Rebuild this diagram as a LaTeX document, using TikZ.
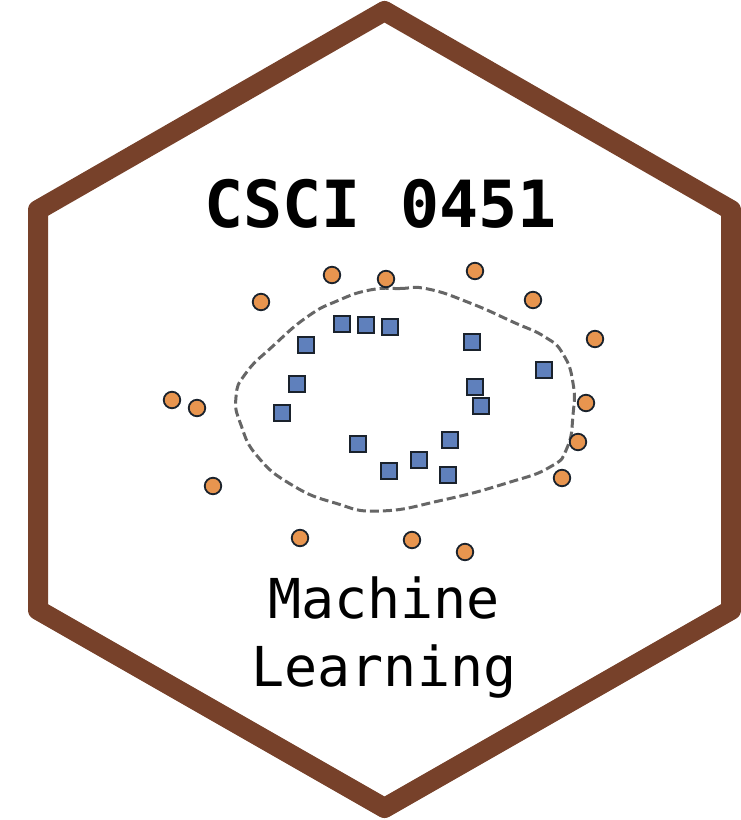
\documentclass[tikz,border=0pt]{standalone}
\usepackage{fontspec}
\setmonofont{DejaVu Sans Mono}
\definecolor{hexbrown}{HTML}{77412A}
\definecolor{dotorange}{HTML}{E8954F}
\definecolor{boxblue}{HTML}{5F80BC}
\definecolor{dashgray}{HTML}{666666}
\definecolor{markline}{HTML}{1A222C}
\tikzset{
  orangedot/.style={circle,draw=markline,fill=dotorange,line width=1.8pt,minimum size=16.5pt,inner sep=0pt},
  bluebox/.style={rectangle,draw=markline,fill=boxblue,line width=1.8pt,minimum size=16.5pt,inner sep=0pt},
  hexframe/.style={draw=hexbrown,line width=20pt,line join=round},
  boundary/.style={draw=dashgray,line width=3pt,dash pattern=on 9pt off 4pt},
  titletext/.style={font=\ttfamily\bfseries\fontsize{65}{65}\selectfont,inner sep=0pt},
  subtext/.style={font=\ttfamily\fontsize{55}{68}\selectfont,align=center,inner sep=0pt}
}
\begin{document}
\begin{tikzpicture}[x=1pt,y=-1pt]
\useasboundingbox (0,0) rectangle (740,820);
\draw[hexframe] (384.5,11) -- (731,210) -- (731,610) -- (384.5,808) -- (38,610) -- (38,210) -- cycle;
\node[titletext] (title) at (380.5,204) {CSCI 0451};
\node[subtext] (subtitle) at (384,638) {Machine\\Learning};
\draw[boundary] plot[smooth cycle,tension=0.85] coordinates {
 (370,290) (400,288.5) (428,289) (470,303) (513,322) (545,337)
 (563,354) (573,383) (573,415) (567,448) (550,467) (507,483)
 (443,500) (380,511) (335,503)
 (292,485) (258,457) (241,425) (236,397)
 (246,373) (273,346) (307,317) (337,301)};
\foreach \n/\x/\y in {a/261/302,b/332/275,c/386/279,d/475/271,e/533/300,f/595/339,g/586/403,h/578/442,i/562/478,j/172/400,k/197/408,l/213/486,m/300/538,n/412/540,o/465/552}
  \node[orangedot] (dot\n) at (\x,\y) {};
\foreach \n/\x/\y in {a/342/324,b/366/325,c/390/327,d/306/345,e/297/384,f/282/413,g/472/342,h/544/370,i/475/387,j/481/406,k/358/444,l/450/440,m/419/460,n/389/471,o/448/475}
  \node[bluebox] (box\n) at (\x,\y) {};
\end{tikzpicture}
\end{document}
